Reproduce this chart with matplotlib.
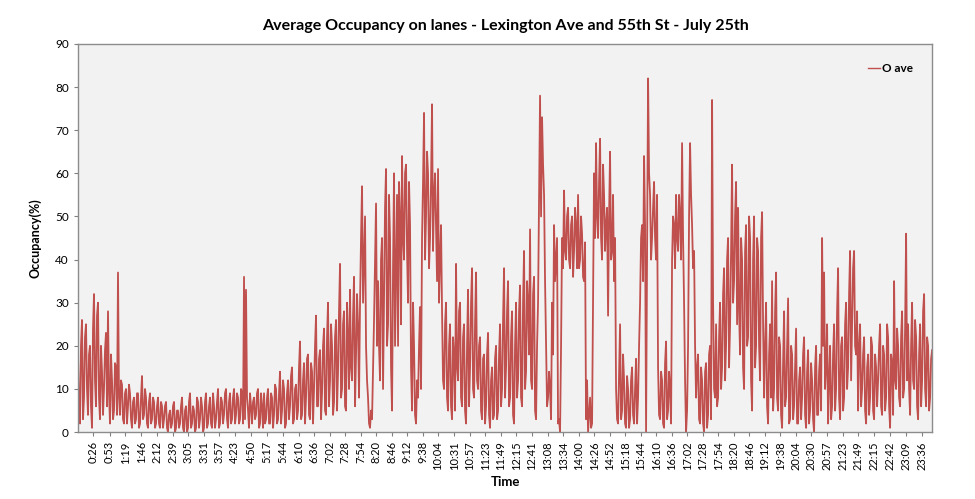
import matplotlib
matplotlib.use("Agg")
import matplotlib.pyplot as plt
import numpy as np

# Occupancy readings (%), every other sample
occupancy_even = [
    18, 2, 26, 8, 25, 4, 20, 1, 32, 6,
    30, 3, 14, 10, 23, 28, 2, 12, 5, 15,
    37, 4, 11, 2, 10, 6, 9, 1, 8, 3,
    9, 2, 13, 4, 8, 1, 9, 3, 7, 2,
    8, 1, 6, 3, 7, 0, 5, 2, 7, 1,
    5, 2, 8, 0, 6, 1, 9, 2, 5, 1,
    7, 3, 6, 1, 9, 2, 8, 1, 6, 3,
    10, 2, 7, 4, 10, 1, 9, 3, 10, 4,
    8, 3, 9, 36, 33, 5, 9, 2, 8, 4,
    10, 2, 6, 9, 3, 10, 2, 8, 4, 10,
    3, 14, 5, 10, 2, 12, 6, 15, 3, 11,
    5, 21, 4, 16, 8, 18, 3, 14, 10, 27,
    6, 19, 9, 24, 4, 30, 12, 20, 7, 26,
    14, 39, 10, 28, 5, 22, 33, 12, 36, 18,
    25, 30, 57, 40, 20, 8, 1, 3, 26, 53,
    35, 12, 45, 30, 61, 25, 45, 5, 60, 38,
    20, 50, 64, 40, 62, 30, 48, 5, 20, 2,
    8, 29, 45, 74, 50, 60, 45, 76, 55, 48,
    61, 40, 28, 10, 30, 5, 25, 3, 18, 39,
    12, 30, 6, 25, 2, 33, 15, 38, 8, 37,
    10, 22, 3, 18, 6, 23, 1, 15, 4, 20,
    5, 25, 10, 38, 15, 35, 8, 28, 2, 30,
    12, 34, 6, 42, 14, 30, 47, 10, 36, 3,
    30, 78, 73, 55, 20, 8, 10, 30, 48, 40,
    2, 0, 45, 56, 40, 52, 38, 50, 42, 48,
    55, 40, 46, 35, 3, 0, 8, 2, 60, 67,
    45, 68, 40, 55, 48, 27, 65, 42, 35, 10,
    2, 25, 5, 12, 1, 10, 3, 15, 2, 17,
    8, 30, 48, 64, 0, 82, 55, 45, 58, 40,
    15, 3, 12, 1, 21, 5, 10, 40, 48, 55,
    42, 50, 67, 30, 0, 20, 67, 48, 42, 8,
    18, 2, 12, 0, 16, 4, 20, 77, 10, 25,
    8, 30, 15, 38, 20, 45, 25, 62, 35, 58,
    52, 18, 40, 10, 48, 22, 45, 5, 50, 20,
    42, 12, 51, 8, 30, 2, 25, 35, 10, 37,
    5, 20, 1, 28, 8, 31, 3, 18, 6, 24,
    2, 15, 8, 22, 1, 19, 5, 12, 0, 20,
    4, 18, 45, 37, 15, 2, 20, 6, 25, 10,
    38, 3, 22, 8, 30, 15, 42, 25, 42, 18,
    5, 25, 10, 22, 2, 18, 8, 20, 3, 15,
    12, 25, 4, 18, 8, 22, 1, 16, 35, 10,
    20, 6, 28, 10, 46, 25, 4, 30, 10, 22,
    3, 25, 12, 32, 6, 20, 8, 19,
]

# the readings that fall between the ones above
occupancy_odd = [
    5, 20, 3, 22, 10, 18, 6, 24, 12, 27,
    8, 20, 4, 19, 6, 9, 18, 3, 16, 4,
    8, 12, 3, 9, 2, 11, 3, 7, 2, 9,
    1, 8, 3, 10, 2, 7, 2, 8, 1, 6,
    2, 7, 1, 6, 1, 4, 1, 6, 0, 5,
    1, 6, 1, 5, 0, 7, 1, 6, 0, 8,
    1, 8, 0, 7, 1, 6, 2, 9, 1, 7,
    1, 8, 2, 9, 3, 7, 2, 8, 2, 9,
    2, 10, 2, 3, 8, 1, 6, 7, 3, 9,
    1, 9, 1, 2, 8, 2, 9, 1, 11, 2,
    9, 2, 12, 1, 9, 3, 13, 2, 10, 3,
    15, 3, 12, 2, 17, 4, 16, 2, 20, 6,
    17, 3, 20, 5, 22, 6, 25, 4, 22, 5,
    28, 8, 25, 6, 30, 10, 15, 27, 6, 32,
    8, 45, 30, 50, 12, 2, 5, 14, 40, 20,
    20, 40, 10, 52, 20, 55, 15, 38, 20, 55,
    58, 25, 45, 60, 42, 58, 15, 30, 4, 12,
    20, 10, 58, 40, 65, 38, 58, 42, 60, 35,
    30, 48, 12, 25, 8, 20, 6, 22, 5, 15,
    28, 8, 22, 5, 20, 6, 30, 10, 25, 12,
    20, 5, 17, 2, 18, 4, 12, 3, 17, 3,
    18, 6, 26, 8, 28, 6, 22, 4, 20, 8,
    28, 8, 30, 10, 35, 18, 12, 32, 5, 20,
    55, 50, 62, 35, 6, 14, 3, 18, 35, 45,
    3, 20, 38, 42, 50, 40, 48, 36, 52, 38,
    38, 50, 36, 44, 12, 4, 1, 30, 45, 50,
    58, 45, 62, 42, 52, 50, 40, 55, 45, 3,
    14, 3, 18, 2, 13, 1, 12, 4, 10, 2,
    20, 45, 35, 48, 40, 60, 40, 52, 45, 55,
    4, 14, 2, 16, 3, 14, 2, 50, 38, 45,
    55, 40, 45, 12, 5, 50, 55, 38, 20, 15,
    3, 15, 2, 14, 1, 18, 3, 30, 8, 6,
    22, 10, 32, 12, 40, 15, 42, 30, 50, 25,
    28, 45, 15, 42, 20, 50, 12, 40, 15, 45,
    20, 45, 25, 20, 6, 18, 8, 5, 28, 8,
    22, 4, 16, 6, 20, 2, 20, 3, 15, 2,
    12, 3, 18, 4, 14, 2, 16, 3, 15, 4,
    14, 5, 20, 10, 25, 12, 3, 18, 5, 28,
    8, 20, 5, 25, 10, 32, 12, 38, 20, 28,
    20, 6, 18, 5, 15, 4, 22, 5, 18, 6,
    20, 6, 20, 5, 25, 6, 18, 4, 12, 24,
    8, 22, 8, 24, 12, 10, 20, 12, 26, 6,
    18, 6, 28, 10, 22, 5, 17,
]

tick_labels = [
    "0:26", "0:53", "1:19", "1:46", "2:12", "2:39", "3:05", "3:31", "3:57",
    "4:23", "4:50", "5:17", "5:44", "6:10", "6:36", "7:02", "7:28", "7:54",
    "8:20", "8:46", "9:12", "9:38", "10:04", "10:31", "10:57", "11:23",
    "11:49", "12:15", "12:41", "13:08", "13:34", "14:00", "14:26", "14:52",
    "15:18", "15:44", "16:10", "16:36", "17:02", "17:28", "17:54", "18:20",
    "18:46", "19:12", "19:38", "20:04", "20:30", "20:57", "21:23", "21:49",
    "22:15", "22:42", "23:09", "23:36",
]

plt.rcParams["font.family"] = ["Lato", "DejaVu Sans"]

occupancy = np.empty(len(occupancy_even) + len(occupancy_odd))
occupancy[0::2] = occupancy_even
occupancy[1::2] = occupancy_odd

day_end = 1433
minutes = np.linspace(0, day_end, len(occupancy))
tick_pos = [int(t.split(":")[0]) * 60 + int(t.split(":")[1]) for t in tick_labels]

fig = plt.figure(figsize=(9.75, 4.99), dpi=100)
ax = fig.add_axes([0.080, 0.134, 0.876, 0.778])
ax.set_facecolor("#F2F2F2")

ax.plot(minutes, occupancy, color="#C0504D", linewidth=1.3, label="O ave")

ax.set_xlim(0, day_end)
ax.set_ylim(0, 90)
ax.set_yticks(range(0, 91, 10))
ax.set_xticks(tick_pos)
ax.set_xticklabels(tick_labels, rotation=90, fontsize=8)
ax.tick_params(axis="y", labelsize=8.5, length=3, color="#808080")
ax.tick_params(axis="x", length=3, color="#808080")

for side in ["top", "right", "left", "bottom"]:
    ax.spines[side].set_color("#8C8C8C")
    ax.spines[side].set_linewidth(1.0)

ax.set_title("Average Occupancy on lanes - Lexington Ave and 55th St - July 25th",
             fontsize=11.5, fontweight="bold", pad=10)
ax.set_xlabel("Time", fontsize=9.5, fontweight="bold", labelpad=4)
ax.set_ylabel("Occupancy(%)", fontsize=9, fontweight="bold", labelpad=10)

leg = ax.legend(loc="upper right", frameon=False, handlelength=1.0,
                handletextpad=0.2, borderaxespad=1.2,
                prop={"weight": "bold", "size": 8.5})
leg.get_lines()[0].set_linewidth(1.0)

fig.savefig("out.png", dpi=100, facecolor="white")
